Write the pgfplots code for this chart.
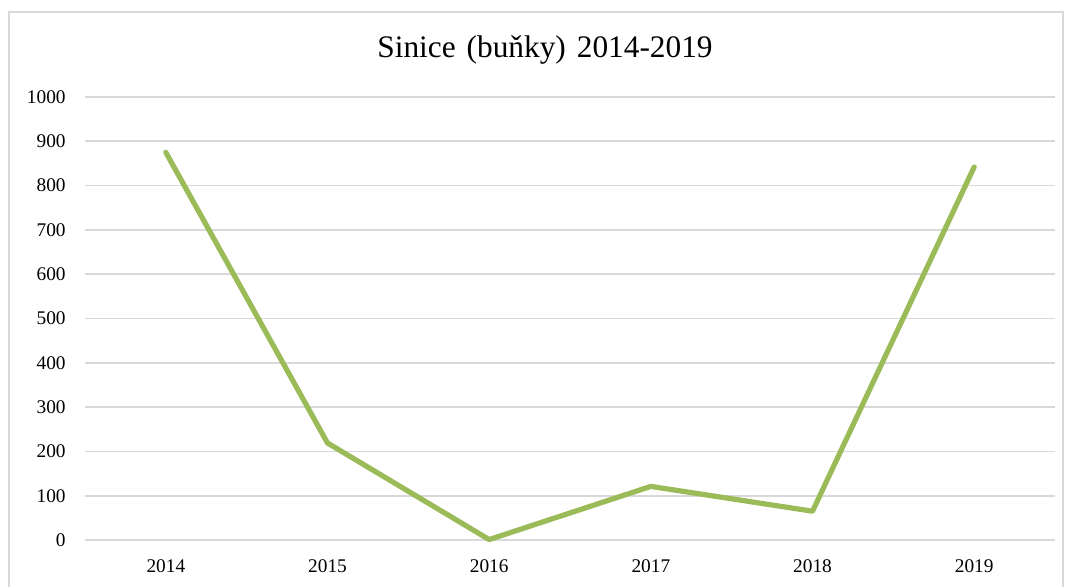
\documentclass[border=0pt]{standalone}
\usepackage{fontspec}
\setmainfont{Liberation Serif}
\usepackage{pgfplots}
\pgfplotsset{compat=1.18}
\definecolor{linegreen}{HTML}{9BBB59}
\definecolor{gridgray}{HTML}{D9D9D9}
\begin{document}
\begin{tikzpicture}[x=0.75pt,y=0.75pt]
\useasboundingbox (0,0) rectangle (1070,586);
\draw[gridgray, line width=1.5pt] (9,-10) rectangle (1063,574);
\node[font=\fontsize{23.5}{27}\selectfont] at (545,536) {Sinice\hspace{0.35em}(buňky)\hspace{0.35em}2014-2019};
\begin{axis}[
  at={(85*0.75pt,46*0.75pt)}, anchor=south west,
  scale only axis,
  width=970*0.75pt, height=443*0.75pt,
  xmin=-0.5, xmax=5.5, ymin=0, ymax=1000,
  xtick={0,1,2,3,4,5},
  xticklabels={2014,2015,2016,2017,2018,2019},
  ytick={0,100,...,1000},
  ymajorgrids, grid style={gridgray, line width=1.3pt},
  axis line style={draw=none},
  major tick length=0pt,
  tick label style={font=\fontsize{14.5}{16}\selectfont},
  /pgf/number format/assume math mode=true,
  /pgf/number format/set thousands separator={},
  yticklabel style={xshift=-11pt},
  xticklabel style={yshift=-11pt},
  clip=false,
]
\addplot[linegreen, line width=3.9pt, line join=round, line cap=round] coordinates {
  (0,875) (1,219) (2,1) (3,121) (4,65) (5,842)
};
\end{axis}
\end{tikzpicture}
\end{document}
